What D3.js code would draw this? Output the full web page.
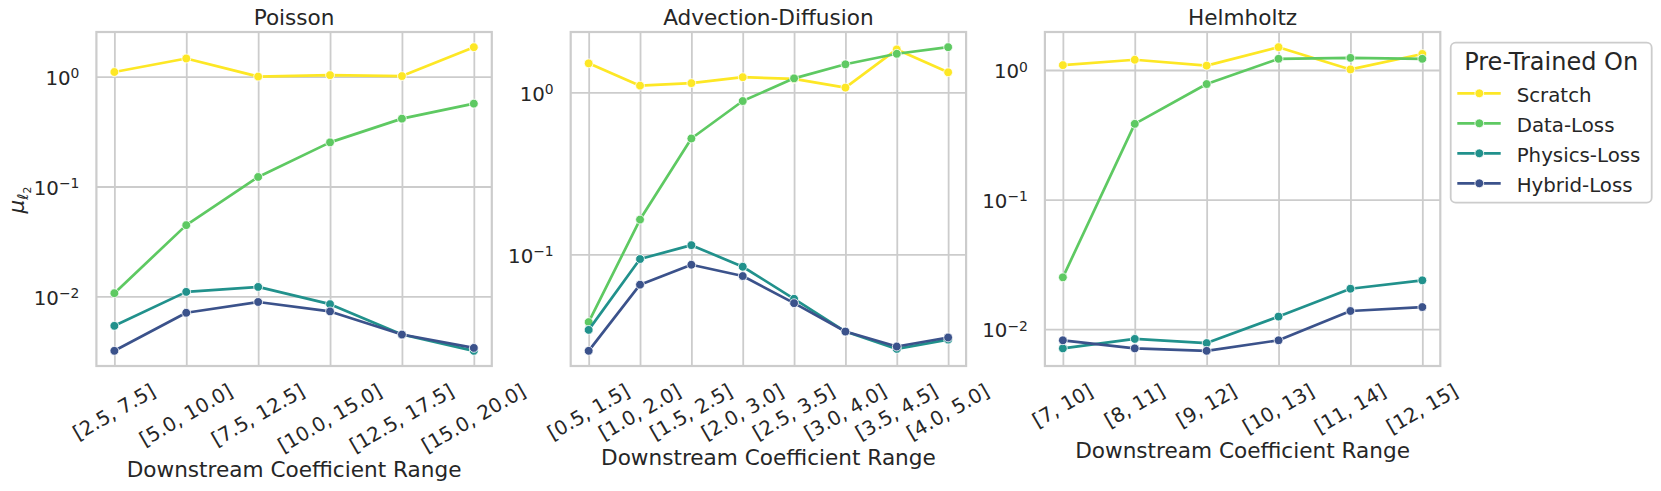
<!DOCTYPE html>
<html>
<head>
<meta charset="utf-8">
<script src="https://cdn.jsdelivr.net/npm/d3@7"></script>
<style>
  body { margin: 0; background: #fff; }
  text { font-family: "DejaVu Sans", sans-serif; fill: #262626; }
</style>
</head>
<body>
<svg id="chart"></svg>
<script>
// categories (x tick labels)
var poissonCats = ["[2.5, 7.5]", "[5.0, 10.0]", "[7.5, 12.5]", "[10.0, 15.0]", "[12.5, 17.5]", "[15.0, 20.0]"];
var advCats = ["[0.5, 1.5]", "[1.0, 2.0]", "[1.5, 2.5]", "[2.0, 3.0]", "[2.5, 3.5]", "[3.0, 4.0]", "[3.5, 4.5]", "[4.0, 5.0]"];
var helmCats = ["[7, 10]", "[8, 11]", "[9, 12]", "[10, 13]", "[11, 14]", "[12, 15]"];

// series values
var poissonScratch = [1.10, 1.46, 1.00, 1.03, 1.01, 1.85];
var poissonData    = [0.0107, 0.0445, 0.122, 0.252, 0.414, 0.567];
var poissonPhysics = [0.0054, 0.0110, 0.0122, 0.0085, 0.0045, 0.0032];
var poissonHybrid  = [0.0032, 0.0071, 0.0089, 0.0073, 0.0045, 0.0034];

var advScratch = [1.51, 1.10, 1.14, 1.24, 1.21, 1.07, 1.84, 1.33];
var advData    = [0.0382, 0.164, 0.519, 0.884, 1.22, 1.49, 1.73, 1.90];
var advPhysics = [0.0342, 0.0936, 0.114, 0.0839, 0.0532, 0.0334, 0.0261, 0.0298];
var advHybrid  = [0.0254, 0.065, 0.0863, 0.0735, 0.0500, 0.0334, 0.0270, 0.0307];

var helmScratch = [1.09, 1.20, 1.08, 1.50, 1.01, 1.33];
var helmData    = [0.0251, 0.384, 0.779, 1.22, 1.24, 1.22];
var helmPhysics = [0.0071, 0.0084, 0.0078, 0.0125, 0.0205, 0.0238];
var helmHybrid  = [0.0082, 0.0071, 0.0068, 0.0082, 0.0138, 0.0148];

var seriesNames = ["Scratch", "Data-Loss", "Physics-Loss", "Hybrid-Loss"];
var decadeTicks = [0.01, 0.1, 1];
var colors = ["#fde725", "#5ec962", "#21918c", "#3b528b"];

var panels = [
    { title: "Poisson", cats: poissonCats, series: [poissonScratch, poissonData, poissonPhysics, poissonHybrid], left: 96.4 },
    { title: "Advection-Diffusion", cats: advCats, series: [advScratch, advData, advPhysics, advHybrid], left: 570.7 },
    { title: "Helmholtz", cats: helmCats, series: [helmScratch, helmData, helmPhysics, helmHybrid], left: 1044.9 }
];

var svgWidth = 1661, svgHeight = 491;
var plotTop = 32, plotBottom = 366, plotWidth = 395.4;
var tickFont = 19.8, labelFont = 21.6;

var svg = d3.select("#chart")
    .attr("width", svgWidth)
    .attr("height", svgHeight);

panels.forEach(function(p, pi) {
    var n = p.cats.length;
    var x = d3.scalePoint()
        .domain(p.cats)
        .range([p.left, p.left + plotWidth])
        .padding(0.05 * (n - 1));

    // log extent with 5% margins like matplotlib
    var all = d3.merge(p.series);
    var lo = Math.log10(d3.min(all)), hi = Math.log10(d3.max(all));
    var pad = (hi - lo) * 0.05;
    var y = d3.scaleLog()
        .domain([Math.pow(10, lo - pad), Math.pow(10, hi + pad)])
        .range([plotBottom, plotTop]);

    var ticks = decadeTicks.filter(function(t) { return t >= y.domain()[0] && t <= y.domain()[1]; });

    var g = svg.append("g");

    // grid
    g.append("g")
        .attr("transform", "translate(0," + plotBottom + ")")
        .call(d3.axisBottom(x).tickSize(-(plotBottom - plotTop)).tickFormat(""))
        .call(function(s) { s.select(".domain").remove(); })
        .selectAll("line")
        .attr("stroke", "#cccccc")
        .attr("stroke-width", 1.8);

    g.append("g")
        .attr("transform", "translate(" + p.left + ",0)")
        .call(d3.axisLeft(y).tickValues(ticks).tickSize(-plotWidth).tickFormat(""))
        .call(function(s) { s.select(".domain").remove(); })
        .selectAll("line")
        .attr("stroke", "#cccccc")
        .attr("stroke-width", 1.8);

    // frame
    g.append("rect")
        .attr("x", p.left)
        .attr("y", plotTop)
        .attr("width", plotWidth)
        .attr("height", plotBottom - plotTop)
        .attr("fill", "none")
        .attr("stroke", "#cccccc")
        .attr("stroke-width", 2.2);

    // y tick labels 10^k
    ticks.forEach(function(t) {
        var e = Math.round(Math.log10(t));
        var txt = g.append("text")
            .attr("x", p.left - 17)
            .attr("y", y(t) + 8.3)
            .attr("text-anchor", "end")
            .style("font-size", tickFont + "px");
        txt.append("tspan").text("10");
        txt.append("tspan")
            .attr("dy", -6.7)
            .style("font-size", (tickFont * 0.7) + "px")
            .text(e === 0 ? "0" : "\u2212" + Math.abs(e));
    });

    // x tick labels rotated 30 deg, centred under tick
    var maxBottom = 0;
    p.cats.forEach(function(c) {
        var t = g.append("text")
            .attr("text-anchor", "middle")
            .attr("dy", "0.314em")
            .style("font-size", tickFont + "px")
            .text(c);
        var w = t.node().getComputedTextLength();
        var h = 0.892 * tickFont;
        var H = w * 0.5 + h * 0.866;
        var cy = 382 + H / 2;
        maxBottom = Math.max(maxBottom, 382 + H);
        t.attr("transform", "translate(" + x(c) + "," + cy + ") rotate(-30)");
    });

    // x axis label
    g.append("text")
        .attr("x", p.left + plotWidth / 2)
        .attr("y", maxBottom + 22)
        .attr("text-anchor", "middle")
        .style("font-size", labelFont + "px")
        .text("Downstream Coefficient Range");

    // title
    g.append("text")
        .attr("x", p.left + plotWidth / 2)
        .attr("y", 25)
        .attr("text-anchor", "middle")
        .style("font-size", labelFont + "px")
        .text(p.title);

    // y label only on the first panel
    if (pi === 0) {
        var yl = g.append("text")
            .attr("transform", "translate(24,200) rotate(-90)")
            .attr("text-anchor", "middle")
            .style("font-size", labelFont + "px");
        yl.append("tspan").style("font-style", "italic").text("\u03bc");
        yl.append("tspan").attr("dy", 4).style("font-style", "italic").style("font-size", (labelFont * 0.7) + "px").text("\u2113");
        yl.append("tspan").attr("dy", 3).style("font-size", (labelFont * 0.5) + "px").text("2");
    }

    // lines + markers, one group per series
    var line = d3.line()
        .x(function(d, i) { return x(p.cats[i]); })
        .y(function(d) { return y(d); });

    p.series.forEach(function(vals, si) {
        var sg = g.append("g");
        sg.append("path")
            .datum(vals)
            .attr("fill", "none")
            .attr("stroke", colors[si])
            .attr("stroke-width", 2.7)
            .attr("stroke-linejoin", "round")
            .attr("stroke-linecap", "round")
            .attr("d", line);
        sg.selectAll("circle")
            .data(vals)
            .enter()
            .append("circle")
            .attr("cx", function(d, i) { return x(p.cats[i]); })
            .attr("cy", function(d) { return y(d); })
            .attr("r", 4.4)
            .attr("fill", colors[si])
            .attr("stroke", "#fff")
            .attr("stroke-width", 0.8);
    });
});

// legend
var legend = svg.append("g");
legend.append("rect")
    .attr("x", 1450.7)
    .attr("y", 42.7)
    .attr("width", 201)
    .attr("height", 160)
    .attr("rx", 5)
    .attr("fill", "#fff")
    .attr("fill-opacity", 0.8)
    .attr("stroke", "#cccccc")
    .attr("stroke-width", 1.8);

legend.append("text")
    .attr("x", 1551.2)
    .attr("y", 70)
    .attr("text-anchor", "middle")
    .style("font-size", "24px")
    .text("Pre-Trained On");

seriesNames.forEach(function(name, i) {
    var ly = 93.3 + 30 * i;
    legend.append("line")
        .attr("x1", 1457.3).attr("x2", 1500.7)
        .attr("y1", ly).attr("y2", ly)
        .attr("stroke", colors[i])
        .attr("stroke-width", 2.7);
    legend.append("circle")
        .attr("cx", 1479.3).attr("cy", ly)
        .attr("r", 4.4)
        .attr("fill", colors[i])
        .attr("stroke", "#fff")
        .attr("stroke-width", 0.8);
    legend.append("text")
        .attr("x", 1516.7)
        .attr("y", ly + 8.4)
        .style("font-size", tickFont + "px")
        .text(name);
});
</script>
</body>
</html>
